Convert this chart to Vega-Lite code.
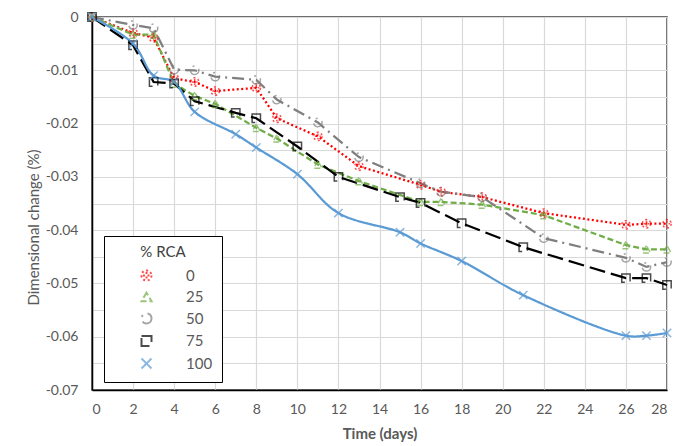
{
  "$schema": "https://vega.github.io/schema/vega-lite/v6.json",
  "autosize": {"type": "none"},
  "padding": {"left": 92, "top": 17, "right": 11, "bottom": 56},
  "width": 575,
  "height": 373,
  "background": "white",
  "config": {
    "view": {"stroke": "#404040", "strokeWidth": 1.5},
    "font": "Lato"
  },
  "data": {
    "values": [
      {"rca": "0", "day": 0, "v": 0}, {"rca": "0", "day": 2, "v": -0.003}, {"rca": "0", "day": 3, "v": -0.0039}, {"rca": "0", "day": 4, "v": -0.0115}, {"rca": "0", "day": 5, "v": -0.0122}, {"rca": "0", "day": 6, "v": -0.0139}, {"rca": "0", "day": 8, "v": -0.0133}, {"rca": "0", "day": 9, "v": -0.019}, {"rca": "0", "day": 11, "v": -0.0224}, {"rca": "0", "day": 13, "v": -0.028}, {"rca": "0", "day": 16, "v": -0.0315}, {"rca": "0", "day": 17, "v": -0.0328}, {"rca": "0", "day": 19, "v": -0.0338}, {"rca": "0", "day": 22, "v": -0.0368}, {"rca": "0", "day": 26, "v": -0.039}, {"rca": "0", "day": 27, "v": -0.0388}, {"rca": "0", "day": 28, "v": -0.0388},
      {"rca": "25", "day": 0, "v": 0}, {"rca": "25", "day": 2, "v": -0.0033}, {"rca": "25", "day": 3, "v": -0.0033}, {"rca": "25", "day": 4, "v": -0.0125}, {"rca": "25", "day": 5, "v": -0.0148}, {"rca": "25", "day": 6, "v": -0.0163}, {"rca": "25", "day": 8, "v": -0.0208}, {"rca": "25", "day": 9, "v": -0.0228}, {"rca": "25", "day": 11, "v": -0.0277}, {"rca": "25", "day": 13, "v": -0.0308}, {"rca": "25", "day": 16, "v": -0.0347}, {"rca": "25", "day": 17, "v": -0.0347}, {"rca": "25", "day": 19, "v": -0.0352}, {"rca": "25", "day": 22, "v": -0.0372}, {"rca": "25", "day": 26, "v": -0.0428}, {"rca": "25", "day": 27, "v": -0.0436}, {"rca": "25", "day": 28, "v": -0.0436},
      {"rca": "50", "day": 0, "v": 0}, {"rca": "50", "day": 2, "v": -0.0015}, {"rca": "50", "day": 3, "v": -0.0021}, {"rca": "50", "day": 4, "v": -0.0099}, {"rca": "50", "day": 5, "v": -0.01}, {"rca": "50", "day": 6, "v": -0.0112}, {"rca": "50", "day": 8, "v": -0.0118}, {"rca": "50", "day": 9, "v": -0.0155}, {"rca": "50", "day": 11, "v": -0.0198}, {"rca": "50", "day": 13, "v": -0.0263}, {"rca": "50", "day": 16, "v": -0.0312}, {"rca": "50", "day": 17, "v": -0.0328}, {"rca": "50", "day": 19, "v": -0.0338}, {"rca": "50", "day": 22, "v": -0.0415}, {"rca": "50", "day": 26, "v": -0.0452}, {"rca": "50", "day": 27, "v": -0.0469}, {"rca": "50", "day": 28, "v": -0.046},
      {"rca": "75", "day": 0, "v": 0}, {"rca": "75", "day": 2, "v": -0.0053}, {"rca": "75", "day": 3, "v": -0.0122}, {"rca": "75", "day": 4, "v": -0.0125}, {"rca": "75", "day": 5, "v": -0.0158}, {"rca": "75", "day": 7, "v": -0.018}, {"rca": "75", "day": 8, "v": -0.019}, {"rca": "75", "day": 10, "v": -0.0243}, {"rca": "75", "day": 12, "v": -0.03}, {"rca": "75", "day": 15, "v": -0.0338}, {"rca": "75", "day": 16, "v": -0.0349}, {"rca": "75", "day": 18, "v": -0.0387}, {"rca": "75", "day": 21, "v": -0.0432}, {"rca": "75", "day": 26, "v": -0.049}, {"rca": "75", "day": 27, "v": -0.049}, {"rca": "75", "day": 28, "v": -0.0503},
      {"rca": "100", "day": 0, "v": 0}, {"rca": "100", "day": 2, "v": -0.005}, {"rca": "100", "day": 3, "v": -0.011}, {"rca": "100", "day": 4, "v": -0.0122}, {"rca": "100", "day": 5, "v": -0.0178}, {"rca": "100", "day": 7, "v": -0.022}, {"rca": "100", "day": 8, "v": -0.0245}, {"rca": "100", "day": 10, "v": -0.0295}, {"rca": "100", "day": 12, "v": -0.0368}, {"rca": "100", "day": 15, "v": -0.0404}, {"rca": "100", "day": 16, "v": -0.0425}, {"rca": "100", "day": 18, "v": -0.0458}, {"rca": "100", "day": 21, "v": -0.0522}, {"rca": "100", "day": 26, "v": -0.0598}, {"rca": "100", "day": 27, "v": -0.0598}, {"rca": "100", "day": 28, "v": -0.0593}
    ]
  },
  "encoding": {
    "x": {
      "field": "day", "type": "quantitative",
      "scale": {"domain": [0, 28], "nice": false, "zero": false},
      "axis": {
        "title": "Time (days)", "values": [0, 2, 4, 6, 8, 10, 12, 14, 16, 18, 20, 22, 24, 26, 28],
        "grid": true, "gridColor": "#d9d9d9", "gridWidth": 1.2,
        "domainColor": "#000000", "domainWidth": 1.5, "ticks": false, "tickSize": 0,
        "labelPadding": 12, "labelFontSize": 14, "labelColor": "#595959", "labelFont": "Lato",
        "titleFontSize": 15, "titleFontWeight": "bold", "titleColor": "#595959", "titleFont": "Lato", "titlePadding": 10
      }
    },
    "y": {
      "field": "v", "type": "quantitative",
      "scale": {"domain": [-0.07, 0], "nice": false, "zero": false},
      "axis": {
        "title": "Dimensional change (%)",
        "values": [0, -0.005, -0.01, -0.015, -0.02, -0.025, -0.03, -0.035, -0.04, -0.045, -0.05, -0.055, -0.06, -0.065, -0.07],
        "labelExpr": "abs(round(datum.value*1000)) % 10 == 0 ? (datum.value == 0 ? '0' : '-0.0' + abs(round(datum.value*100))) : ''",
        "labelOverlap": false,
        "grid": true, "gridColor": "#d9d9d9", "gridWidth": 1.2,
        "domainColor": "#000000", "domainWidth": 1.5, "ticks": false, "tickSize": 0,
        "labelPadding": 14, "labelFontSize": 14, "labelColor": "#595959", "labelFont": "Lato",
        "titleFontSize": 15, "titleFontWeight": "normal", "titleColor": "#595959", "titleFont": "Lato",
        "titleY": 210
      }
    },
    "color": {
      "field": "rca", "type": "nominal",
      "scale": {"domain": ["0", "25", "50", "75", "100"], "range": ["#FF0000", "#70AD47", "#7F7F7F", "#000000", "#5B9BD5"]},
      "legend": {
        "orient": "none", "legendX": 12, "legendY": 219, "title": "% RCA",
        "strokeColor": "#000000", "fillColor": "white", "padding": 9,
        "titleFontSize": 15, "titleFont": "Lato", "titleFontWeight": "normal", "titleColor": "#404040", "titleAnchor": "middle", "titlePadding": 8,
        "labelFontSize": 15, "labelColor": "#595959", "labelFont": "Lato",
        "symbolSize": 100, "symbolStrokeWidth": 2, "symbolOffset": 26, "labelOffset": 32, "rowPadding": 3.5
      }
    },
    "strokeDash": {
      "field": "rca", "type": "nominal",
      "scale": {"domain": ["0", "25", "50", "75", "100"], "range": [[2, 2.5], [6, 3], [12, 5, 2, 5], [16, 6], [1, 0]]}
    }
  },
  "layer": [
    {
      "transform": [{"filter": "datum.rca != '100'"}],
      "mark": {"type": "line", "strokeWidth": 2.25}
    },
    {
      "transform": [{"filter": "datum.rca == '100'"}],
      "mark": {"type": "line", "strokeWidth": 2.25, "interpolate": "catmull-rom"}
    },
    {
      "mark": {"type": "point", "filled": false, "size": 70, "strokeWidth": 1.5},
      "encoding": {
        "shape": {
          "field": "rca", "type": "nominal", "legend": null,
          "scale": {"domain": ["0", "25", "50", "75", "100"], "range": ["M1,0A1,1,0,1,1,-1,0A1,1,0,1,1,1,0M-0.7,0H0.7M0,-0.7V0.7", "triangle-up", "circle", "square", "M-1,-1L1,1M-1,1L1,-1"]}
        }
      }
    }
  ]
}
